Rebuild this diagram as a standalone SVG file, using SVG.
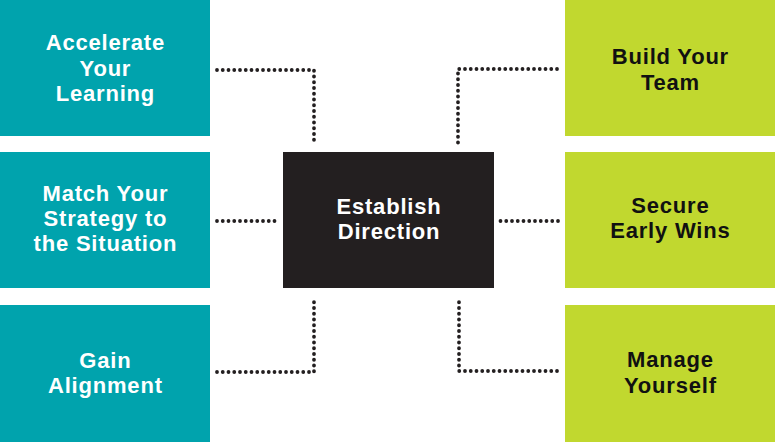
<svg xmlns="http://www.w3.org/2000/svg" width="775" height="442" viewBox="0 0 775 442">
<style>
.teal{fill:#00A3AD}
.green{fill:#C1D82F}
.dark{fill:#231F20}
.lbl{font-family:"Liberation Sans",Arial,sans-serif;font-weight:bold;font-size:22px;letter-spacing:0.8px;text-anchor:middle}
.w{fill:#FFFFFF}
.k{fill:#111111}
.dot{fill:none;stroke:#231F20;stroke-width:3.8;stroke-linecap:round;stroke-dasharray:0 5.75}
</style>
<rect width="775" height="442" fill="#FFFFFF"/>
<g id="connectors">
<path class="dot" d="M217 70 H314 V144"/>
<path class="dot" d="M217 221 H276"/>
<path class="dot" d="M217 372 H314 V297"/>
<path class="dot" d="M557 69 H458 V144"/>
<path class="dot" d="M558 221 H499"/>
<path class="dot" d="M557 371 H459 V297"/>
</g>
<g id="accelerate">
<rect class="teal" x="0" y="0" width="210" height="136"/>
<text class="lbl w" x="105.4" y="50">Accelerate</text>
<text class="lbl w" x="105.4" y="75.5">Your</text>
<text class="lbl w" x="105.4" y="101">Learning</text>
</g>
<g id="match">
<rect class="teal" x="0" y="152" width="210" height="136"/>
<text class="lbl w" x="105.4" y="201">Match Your</text>
<text class="lbl w" x="105.4" y="226">Strategy to</text>
<text class="lbl w" x="105.4" y="251">the Situation</text>
</g>
<g id="gain">
<rect class="teal" x="0" y="305" width="210" height="137"/>
<text class="lbl w" x="105.4" y="368">Gain</text>
<text class="lbl w" x="105.4" y="393">Alignment</text>
</g>
<g id="establish">
<rect class="dark" x="283" y="152" width="211" height="136"/>
<text class="lbl w" x="389" y="214">Establish</text>
<text class="lbl w" x="389" y="239">Direction</text>
</g>
<g id="build">
<rect class="green" x="565" y="0" width="210" height="136"/>
<text class="lbl k" x="670.4" y="64">Build Your</text>
<text class="lbl k" x="670.4" y="90">Team</text>
</g>
<g id="secure">
<rect class="green" x="565" y="152" width="210" height="136"/>
<text class="lbl k" x="670.4" y="213">Secure</text>
<text class="lbl k" x="670.4" y="238">Early Wins</text>
</g>
<g id="manage">
<rect class="green" x="565" y="305" width="210" height="137"/>
<text class="lbl k" x="670.4" y="367">Manage</text>
<text class="lbl k" x="670.4" y="393">Yourself</text>
</g>
</svg>
